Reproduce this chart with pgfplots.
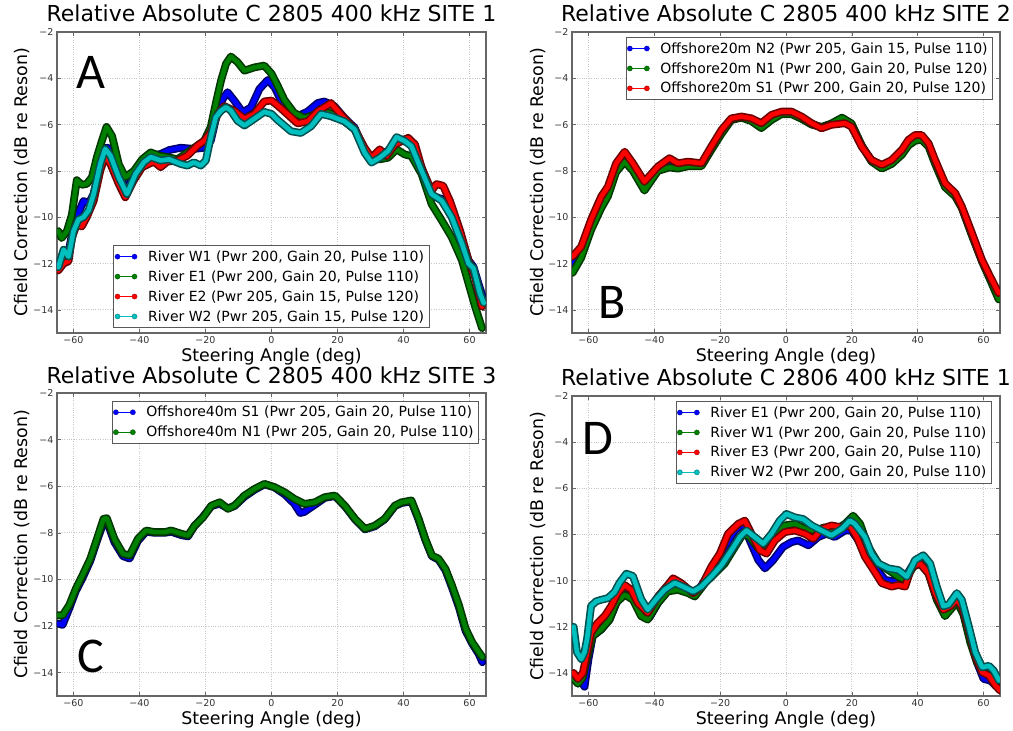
\documentclass[border=0pt]{standalone}
\usepackage{fontspec}
\setmainfont{DejaVu Sans}
\newfontfamily\letterfont{Carlito}
\usepackage{pgfplots}
\usepackage{pgfplotstable}
\pgfplotsset{compat=1.18}

\definecolor{mplblue}{rgb}{0,0,1}
\definecolor{mplgreen}{rgb}{0,0.5,0}
\definecolor{mplred}{rgb}{1,0,0}
\definecolor{mplcyan}{rgb}{0,0.75,0.75}

% ---------------- Panel A ----------------
\pgfplotstableread{
x y
-64.6 -12.0
-63 -11.6
-61.5 -11.5
-60 -10.4
-59 -10.0
-57 -9.3
-55.4 -9.4
-53.9 -9.0
-51.9 -7.7
-50 -7.0
-48.3 -7.05
-46.3 -8.0
-44.3 -8.9
-41.2 -8.0
-38.7 -7.5
-36.6 -7.34
-33.6 -7.27
-31 -7.1
-27.5 -7.0
-23.5 -7.05
-20.4 -7.0
-18.4 -6.7
-16.3 -5.4
-14.8 -4.9
-13.3 -4.6
-11.3 -4.96
-8.7 -5.47
-6.2 -5.25
-3.65 -4.46
-1.1 -4.07
1 -4.4
3 -5.0
5 -5.4
7.9 -5.64
11 -5.43
14 -5.07
16 -5.0
19.1 -5.21
22.1 -5.71
25.2 -6.14
28.2 -7.14
30.3 -7.57
32.8 -7.29
35.3 -7.14
37.9 -6.71
40.4 -6.64
42.4 -6.71
45.5 -7.86
48.5 -9.07
51.6 -9.21
54.6 -9.93
57.7 -11.0
59.7 -11.86
61.2 -12.14
62.7 -12.86
64.3 -13.57
}\Ablue
\pgfplotstableread{
x y
-64.6 -10.6
-63.6 -10.9
-62 -10.6
-60.5 -9.9
-59 -8.4
-57.5 -8.6
-56 -8.56
-54.4 -8.27
-52.9 -7.4
-51.4 -6.7
-50 -6.1
-48.3 -6.5
-46.3 -7.7
-44.3 -8.27
-41.7 -8.0
-39.2 -7.5
-36.6 -7.2
-34.1 -7.34
-31.6 -7.4
-28.5 -7.5
-25.5 -7.2
-22.4 -6.9
-20.4 -6.7
-18.4 -6.1
-16.9 -5.1
-15.3 -4.1
-13.8 -3.38
-12.3 -3.06
-10.3 -3.3
-8.2 -3.67
-5.2 -3.53
-2.2 -3.45
0 -3.8
1.8 -4.3
3.9 -4.93
6.9 -5.5
10 -5.71
13 -5.57
16 -5.43
19.1 -5.57
22.1 -5.86
25.2 -6.21
28.2 -7.07
30.3 -7.5
32.8 -7.5
35.3 -7.43
37.9 -7.07
40.4 -7.29
42.4 -7.36
45.5 -8.14
48.5 -9.43
51.6 -10.14
54.6 -10.86
57.7 -11.86
59.7 -12.86
61.7 -13.86
63.8 -14.79
}\Agreen
\pgfplotstableread{
x y
-64.6 -12.3
-63 -12.0
-61.5 -11.9
-60.5 -10.9
-59 -10.3
-57.5 -10.4
-56 -10.0
-53.9 -9.3
-51.9 -8.0
-50.4 -7.34
-48.8 -7.7
-46.3 -8.56
-44.3 -9.14
-41.7 -8.4
-39.2 -7.84
-37.2 -7.7
-35.6 -7.6
-33.6 -7.84
-31.6 -7.6
-28.5 -7.55
-25.5 -7.34
-22.4 -6.9
-20.4 -6.7
-18.4 -6.33
-16.3 -5.54
-14.3 -5.2
-11.3 -5.4
-8.2 -5.75
-5.2 -5.54
-2.2 -5.0
0 -4.96
2.8 -5.29
7.9 -5.95
11 -5.86
14 -5.43
18 -5.07
21.1 -5.57
25.2 -6.2
28.2 -7.0
30.3 -7.43
32.8 -7.07
34.8 -7.36
37.4 -6.86
41.4 -6.57
43.5 -6.86
45.5 -7.86
48.5 -8.86
50 -8.57
52 -8.64
54.1 -9.3
57.2 -10.6
59.7 -11.86
61.7 -12.6
63.8 -13.86
}\Ared
\pgfplotstableread{
x y
-64.6 -12.16
-63 -11.4
-61.5 -11.7
-60 -10.6
-58.5 -10.1
-57 -10.0
-55.4 -9.7
-53.9 -9.0
-51.9 -7.7
-50.4 -7.05
-48.8 -7.34
-46.3 -8.27
-43.8 -9.0
-41.2 -8.13
-38.7 -7.63
-36.6 -7.4
-33.6 -7.55
-31 -7.5
-27.5 -7.7
-25.5 -7.77
-23.5 -7.63
-21.4 -7.77
-19.9 -7.55
-18.4 -6.55
-16.9 -5.68
-15.3 -5.4
-13.8 -5.25
-12.3 -5.4
-10.3 -5.83
-8.2 -6.04
-5.2 -5.75
-2.2 -5.45
0 -5.54
1.8 -5.79
5.9 -6.29
8.9 -6.36
12 -6.07
15 -5.54
18 -5.64
22.1 -5.86
25.2 -6.21
28.2 -7.21
30.3 -7.64
32.8 -7.43
35.3 -7.14
37.9 -6.54
40.4 -6.71
42.4 -6.93
45.5 -8.0
48.5 -9.0
51.6 -9.29
54.6 -10.0
57.7 -11.14
59.7 -12.0
61.2 -12.2
63.2 -13.3
64.3 -13.7
}\Acyan

% ---------------- Panel B ----------------
\pgfplotstableread{
x y
-64.8 -12.0
-62.2 -11.5
-59.2 -10.35
-56.1 -9.35
-54.1 -8.9
-51.6 -7.85
-49 -7.4
-46.5 -7.85
-43 -8.65
-38.9 -7.9
-35.4 -7.65
-32.8 -7.8
-29.8 -7.7
-25.7 -7.75
-22.7 -7.05
-19.6 -6.3
-16.6 -5.75
-13.5 -5.68
-10.5 -5.8
-7.5 -6.05
-4.4 -5.7
-1.4 -5.5
1.7 -5.5
4.7 -5.7
7.8 -5.97
10.8 -6.12
13.8 -5.98
17 -5.8
19.9 -6.0
23 -6.92
26 -7.56
29.1 -7.82
32.1 -7.6
35.2 -7.2
37.2 -6.78
39.2 -6.58
41.2 -6.55
43.3 -6.88
45.3 -7.6
48.3 -8.6
51.4 -9.0
53.4 -9.57
56.5 -10.75
59.5 -11.87
62 -12.63
64.6 -13.4
}\Bblue
\pgfplotstableread{
x y
-64.8 -12.4
-62.2 -11.75
-59.2 -10.55
-56.1 -9.6
-54.1 -9.1
-51.6 -8.05
-49 -7.6
-46.5 -8.0
-43 -8.85
-38.9 -8.0
-35.4 -7.85
-32.8 -7.9
-29.8 -7.8
-25.7 -7.8
-22.7 -7.1
-19.6 -6.4
-16.6 -5.8
-13.5 -5.7
-10.5 -5.85
-7.5 -6.15
-4.4 -5.8
-1.4 -5.55
1.7 -5.55
4.7 -5.75
7.8 -6.0
10.8 -6.1
13.8 -5.95
17 -5.7
19.9 -5.95
23 -6.9
26 -7.6
29.1 -7.9
32.1 -7.7
35.2 -7.3
37.2 -6.9
39.2 -6.7
41.2 -6.65
43.3 -6.95
45.3 -7.7
48.3 -8.7
51.4 -9.1
53.4 -9.6
56.5 -10.8
59.5 -11.9
62 -12.7
64.6 -13.55
}\Bgreen
\pgfplotstableread{
x y
-64.8 -11.7
-62.2 -11.27
-59.2 -10.1
-56.1 -9.1
-54.1 -8.68
-51.6 -7.67
-49 -7.17
-46.5 -7.67
-43 -8.46
-38.9 -7.81
-35.4 -7.45
-32.8 -7.67
-29.8 -7.6
-25.7 -7.67
-22.7 -6.95
-19.6 -6.23
-16.6 -5.73
-13.5 -5.65
-10.5 -5.73
-7.5 -5.94
-4.4 -5.58
-1.4 -5.44
1.7 -5.44
4.7 -5.65
7.8 -5.94
10.8 -6.16
13.8 -6.01
17.9 -5.94
19.9 -6.09
23 -6.95
26 -7.53
29.1 -7.74
32.1 -7.53
35.2 -7.09
37.2 -6.66
39.2 -6.45
41.2 -6.45
43.3 -6.81
45.3 -7.53
48.3 -8.53
51.4 -8.96
53.4 -9.54
56.5 -10.69
59.5 -11.84
62 -12.56
64.6 -13.28
}\Bred

% ---------------- Panel C ----------------
\pgfplotstableread{
x y
-64.5 -11.9
-63.3 -11.95
-61.3 -11.25
-59.3 -10.5
-57.3 -9.95
-54.9 -9.2
-52.9 -8.35
-50.9 -7.55
-49.9 -7.5
-47.6 -8.4
-45 -9.0
-43 -9.1
-40.5 -8.35
-38 -7.95
-35.4 -8.0
-32.4 -8.0
-30.4 -7.95
-27.3 -8.1
-25.3 -8.15
-23.3 -7.7
-20.7 -7.3
-18.2 -6.85
-15.7 -6.75
-13.2 -6.95
-11.2 -6.85
-8.2 -6.45
-5.1 -6.15
-2.1 -5.92
0.9 -6.05
4 -6.35
6.9 -6.75
8.7 -7.15
10 -7.1
11.5 -6.95
13.1 -6.8
16.1 -6.5
19.2 -6.42
22.2 -6.85
25.3 -7.42
28.3 -7.85
31.3 -7.72
34.3 -7.42
37.4 -6.85
39.4 -6.72
42.4 -6.65
44.6 -7.45
46.6 -8.3
48.6 -9.0
50.6 -9.15
52.7 -9.6
54.7 -10.35
56.8 -11.2
58.8 -12.2
60.8 -12.75
62.8 -13.2
63.9 -13.55
}\Cblue
\pgfplotstableread{
x y
-64.8 -11.54
-63.3 -11.54
-61.3 -11.1
-59.3 -10.4
-57.3 -9.83
-54.9 -9.11
-52.9 -8.26
-50.9 -7.4
-49.9 -7.37
-47.6 -8.26
-45 -8.9
-43 -8.97
-40.5 -8.26
-38 -7.9
-35.4 -7.97
-32.4 -7.97
-30.4 -7.9
-27.3 -8.04
-25.3 -8.11
-23.3 -7.69
-20.7 -7.33
-18.2 -6.83
-15.7 -6.69
-13.2 -6.97
-11.2 -6.83
-8.2 -6.4
-5.1 -6.11
-2.1 -5.9
0.9 -6.04
4 -6.26
6.9 -6.54
10 -6.76
13.1 -6.69
16.1 -6.47
19.2 -6.4
22.2 -6.83
25.3 -7.4
28.3 -7.83
31.3 -7.69
34.3 -7.4
37.4 -6.83
39.4 -6.69
42.4 -6.61
44.6 -7.4
46.6 -8.26
48.6 -8.97
50.6 -9.11
52.7 -9.54
54.7 -10.26
56.8 -11.1
58.8 -12.1
60.8 -12.69
62.8 -13.11
63.9 -13.33
}\Cgreen

% ---------------- Panel D ----------------
\pgfplotstableread{
x y
-64.5 -14.26
-62.7 -14.26
-61.2 -14.6
-60 -13.4
-58.7 -12.4
-56.1 -12.11
-53.6 -11.69
-51.1 -10.83
-49 -10.4
-46.5 -10.54
-44 -11.26
-41.5 -11.61
-38.9 -10.97
-35.9 -10.4
-32.8 -10.26
-29.8 -10.4
-27.2 -10.54
-24.6 -9.97
-21.6 -9.26
-18.6 -8.54
-15.5 -7.83
-13 -7.54
-11 -8.26
-8.4 -9.11
-6.4 -9.47
-3.9 -9.11
-0.9 -8.54
1.7 -8.33
3.7 -8.26
6.8 -8.47
9.8 -8.11
12.3 -7.97
14.8 -8.11
17.9 -7.83
19.9 -7.83
22 -8.26
24.5 -8.97
27 -9.4
30.1 -9.97
33.1 -10.04
35.7 -9.97
38.2 -9.4
40.7 -9.19
43.3 -9.54
45.3 -10.54
48.3 -11.4
50.4 -11.11
51.9 -10.83
53.9 -11.4
56 -12.54
58 -13.54
60 -14.26
62.1 -14.33
64.1 -14.61
}\Dblue
\pgfplotstableread{
x y
-64.5 -14.26
-63.2 -14.47
-61.7 -14.19
-60.4 -13.33
-58.7 -12.4
-56.1 -12.11
-53.6 -11.69
-51.6 -10.97
-49 -10.61
-46.5 -10.83
-44 -11.54
-42 -11.69
-38.9 -10.97
-35.9 -10.47
-32.8 -10.4
-29.8 -10.54
-27.7 -10.69
-24.6 -10.11
-21.6 -9.69
-18.6 -9.26
-15.5 -8.54
-13 -7.97
-11 -8.11
-8.4 -8.61
-5.9 -8.69
-3.4 -8.11
-0.4 -7.61
2.7 -7.54
5.7 -7.76
8.8 -7.83
11.8 -7.69
14.8 -7.83
17.9 -7.54
20.4 -7.19
22.5 -7.54
25 -8.54
28.1 -9.26
31.1 -9.54
34.1 -9.83
36.2 -9.97
38.7 -9.4
40.7 -9.26
43.3 -9.69
45.8 -10.83
48.3 -11.54
50.4 -11.19
51.9 -10.9
53.9 -11.47
56 -12.69
58 -13.54
60 -13.97
62.1 -14.11
64.1 -14.47
}\Dgreen
\pgfplotstableread{
x y
-64.5 -14.0
-63.2 -14.26
-61.7 -14.0
-60.4 -13.1
-59.2 -12.26
-57.2 -11.83
-55.1 -11.54
-53.1 -11.11
-51.1 -10.54
-49 -10.19
-47 -10.4
-45 -10.97
-42 -11.4
-38.9 -10.69
-35.9 -10.19
-34.3 -9.9
-31.8 -10.11
-28.2 -10.54
-25.7 -10.26
-22.7 -9.4
-20.1 -8.83
-17.6 -7.97
-14.5 -7.54
-12.5 -7.4
-10.5 -7.97
-7.9 -8.69
-5.9 -8.83
-3.4 -8.26
-0.4 -7.9
2.7 -7.83
5.7 -7.97
8.3 -8.19
10.8 -7.76
13.8 -7.61
16.9 -7.69
19.4 -7.61
21.5 -8.11
24 -8.97
26.6 -9.54
29.1 -10.11
32.1 -10.26
34.1 -10.19
36.2 -10.26
38.2 -9.4
40.7 -9.26
43.3 -9.69
45.3 -10.54
47.8 -11.26
49.9 -11.11
51.9 -10.83
53.4 -11.11
55.5 -12.11
57.5 -13.26
59.6 -13.97
61.6 -14.11
63.6 -14.54
65 -14.76
}\Dred
\pgfplotstableread{
x y
-64.5 -12.0
-63.5 -13.1
-62.2 -13.4
-61.2 -13.1
-60.4 -12.5
-59.2 -11.1
-57.7 -10.9
-56.1 -10.83
-54.1 -10.76
-52.1 -10.5
-50.6 -10.1
-48.5 -9.7
-46.5 -9.8
-44 -10.8
-42 -11.26
-39.4 -10.8
-36.9 -10.4
-33.8 -10.1
-31.3 -10.26
-28.2 -10.47
-25.7 -10.26
-22.7 -9.83
-19.6 -9.33
-16.6 -8.69
-14 -8.11
-12 -7.83
-9.5 -8.11
-6.9 -8.4
-4.4 -7.97
-1.9 -7.4
0.1 -7.11
2.7 -7.26
5.2 -7.33
7.8 -7.61
10.8 -7.83
13.8 -8.04
16.9 -7.76
19.4 -7.4
20.9 -7.54
24 -8.11
26 -8.83
28.1 -9.26
31.1 -9.47
34.1 -9.54
36.7 -9.83
39.2 -9.11
41.7 -8.9
43.8 -9.26
45.8 -10.26
47.8 -11.11
49.4 -11.04
51.9 -10.54
53.4 -10.83
55.5 -11.97
57.5 -13.11
59.6 -13.76
61.6 -13.69
63.1 -13.9
64.7 -14.33
}\Dcyan

\newcommand{\band}[2]{%
  \addplot[forget plot, no marks, line width=7.8pt, line join=round, line cap=round, #1!42!black] table {#2};
  \addplot[forget plot, no marks, line width=4.6pt, line join=round, line cap=round, #1] table {#2};
}
\newcommand{\leg}[2]{%
  \addlegendimage{#1, line width=0.8pt, mark=*, mark size=2.6pt, mark options={fill=#1, draw=#1!60!black, line width=0.3pt}}
  \addlegendentry{#2}
}

\tikzset{letter/.style={font=\letterfont\fontsize{50}{50}\selectfont, inner sep=0pt, anchor=center}}

\pgfplotsset{
  panel/.style={
    scale only axis,
    xmin=-65, xmax=65, ymin=-15, ymax=-2,
    xtick={-60,-40,...,60}, xticklabels={−60,−40,−20,0,20,40,60},
    ytick={-14,-12,...,-2}, yticklabels={−14,−12,−10,−8,−6,−4,−2},
    tick label style={font=\fontsize{9.5}{11}\selectfont, text=black!80},
    grid=major, grid style={dotted, black!22, line width=0.7pt},
    axis line style={black!60, line width=1.2pt},
    major tick length=4pt, tick style={black!60, line width=0.6pt},
    title style={font=\fontsize{22}{26}\selectfont, at={(axis description cs:0.5,1)}, anchor=base, yshift=4.5pt},
    xlabel style={font=\fontsize{17.4}{20}\selectfont, at={(axis description cs:0.5,0)}, anchor=base, yshift=-29pt},
    ylabel style={font=\fontsize{17.4}{20}\selectfont, at={(axis description cs:-0.0677,0.5)}, anchor=base},
    xlabel={Steering Angle (deg)},
    ylabel={Cfield Correction (dB re Reson)},
    legend cell align=left,
    legend image code/.code={\draw[mark repeat=1,##1] plot coordinates {(0pt,0pt) (17pt,0pt)};},
    legend style={font=\fontsize{14}{16}\selectfont, draw=black!65, line width=0.9pt, fill=white,
      inner sep=1pt, nodes={inner ysep=3.9pt, inner xsep=4pt},
      /tikz/every odd column/.append style={column sep=7pt}},
  },
}

\begin{document}
\begin{tikzpicture}
\useasboundingbox (0,0) rectangle (1013pt,731pt);

% A
\begin{axis}[panel, at={(57pt,398pt)}, anchor=south west, width=429pt, height=301pt,
  title={Relative Absolute C 2805 400 kHz SITE 1},
  legend style={at={(0.5,0.017)}, anchor=south}]
\band{mplblue}{\Ablue}
\band{mplgreen}{\Agreen}
\band{mplred}{\Ared}
\band{mplcyan}{\Acyan}
\leg{mplblue}{River W1 (Pwr 200, Gain 20, Pulse 110)}
\leg{mplgreen}{River E1 (Pwr 200, Gain 20, Pulse 110)}
\leg{mplred}{River E2 (Pwr 205, Gain 15, Pulse 120)}
\leg{mplcyan}{River W2 (Pwr 205, Gain 15, Pulse 120)}
\node[letter] at (rel axis cs:0.079,0.867) {A};
\end{axis}

% B
\begin{axis}[panel, at={(572pt,398pt)}, anchor=south west, width=428pt, height=301pt,
  title={Relative Absolute C 2805 400 kHz SITE 2},
  legend style={at={(0.984,0.983)}, anchor=north east}]
\band{mplblue}{\Bblue}
\band{mplgreen}{\Bgreen}
\band{mplred}{\Bred}
\leg{mplblue}{Offshore20m N2 (Pwr 205, Gain 15, Pulse 110)}
\leg{mplgreen}{Offshore20m N1 (Pwr 200, Gain 20, Pulse 120)}
\leg{mplred}{Offshore20m S1 (Pwr 200, Gain 20, Pulse 120)}
\node[letter] at (rel axis cs:0.093,0.10) {B};
\end{axis}

% C
\begin{axis}[panel, at={(57pt,35pt)}, anchor=south west, width=429pt, height=303pt,
  title={Relative Absolute C 2805 400 kHz SITE 3},
  title style={yshift=-1.5pt},
  legend style={at={(0.984,0.974)}, anchor=north east}]
\band{mplblue}{\Cblue}
\band{mplgreen}{\Cgreen}
\leg{mplblue}{Offshore40m S1 (Pwr 205, Gain 20, Pulse 110)}
\leg{mplgreen}{Offshore40m N1 (Pwr 205, Gain 20, Pulse 110)}
\node[letter] at (rel axis cs:0.079,0.129) {C};
\end{axis}

% D
\begin{axis}[panel, at={(572pt,35pt)}, anchor=south west, width=428pt, height=300pt,
  title={Relative Absolute C 2806 400 kHz SITE 1},
  legend style={at={(0.981,0.983)}, anchor=north east}]
\band{mplblue}{\Dblue}
\band{mplgreen}{\Dgreen}
\band{mplred}{\Dred}
\band{mplcyan}{\Dcyan}
\leg{mplblue}{River E1 (Pwr 200, Gain 20, Pulse 110)}
\leg{mplgreen}{River W1 (Pwr 200, Gain 20, Pulse 110)}
\leg{mplred}{River E3 (Pwr 200, Gain 20, Pulse 110)}
\leg{mplcyan}{River W2 (Pwr 200, Gain 20, Pulse 110)}
\node[letter] at (rel axis cs:0.061,0.857) {D};
\end{axis}
\end{tikzpicture}
\end{document}
